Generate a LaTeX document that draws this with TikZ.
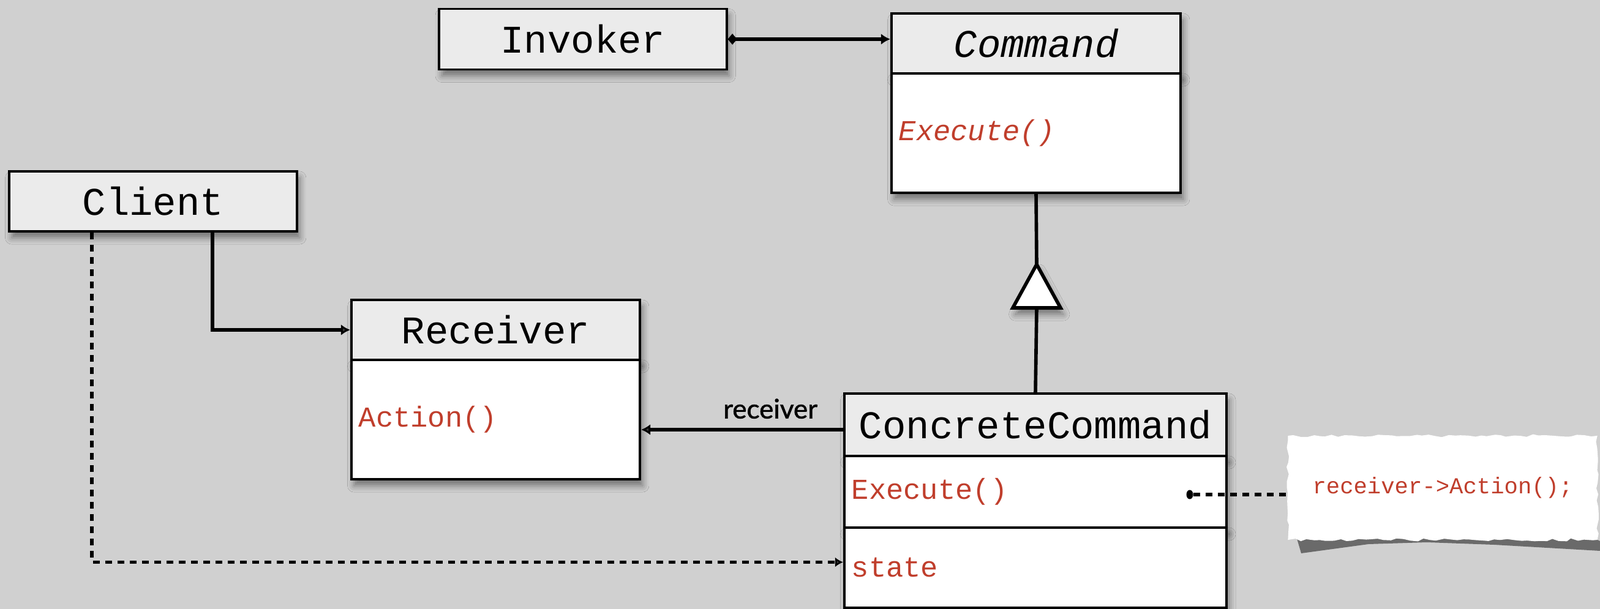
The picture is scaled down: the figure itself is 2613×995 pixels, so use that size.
\documentclass[tikz,border=0pt]{standalone}
\usepackage{fontspec}
\setmonofont{Liberation Mono}
\newfontfamily\tagfont{Lato}[FakeBold=1.3]
\usetikzlibrary{arrows.meta}
\usetikzlibrary{shapes.geometric}
\usetikzlibrary{shadows.blur}
\usetikzlibrary{decorations.pathmorphing}
\definecolor{paper}{RGB}{208,208,208}
\definecolor{headgray}{RGB}{235,235,235}
\definecolor{opred}{RGB}{192,62,44}

\begin{document}
\begin{tikzpicture}[x=0.01cm,y=-0.01cm,
  shade/.style={blur shadow={shadow xshift=1.2pt,shadow yshift=-3pt,shadow blur radius=3pt,shadow opacity=45}},
  head/.style={draw,line width=1.1pt,fill=headgray,inner sep=0pt,shade,
    font=\ttfamily\fontsize{18.2}{21}\selectfont},
  ops/.style={draw,line width=1.1pt,fill=white,inner xsep=0.12cm,inner ysep=0pt,shade,
    text width=#1,align=left,text=opred,font=\ttfamily\fontsize{13.4}{16}\selectfont},
  assoc/.style={line width=1.6pt,-{Latex[length=0.15cm,width=0.18cm]}},
  dep/.style={line width=1.6pt,dash pattern=on 0.11cm off 0.09cm},
  ]
\useasboundingbox (0,0) rectangle (2613,995);
\fill[paper] (0,0) rectangle (2613,995);

\node[head,minimum width=4.69cm,minimum height=0.99cm] (invoker) at (952,64) {Invoker};
\node[head,minimum width=4.72cm,minimum height=0.98cm] (command) at (1692,71) {\itshape Command};
\node[ops=4.48cm,minimum height=1.95cm] (cmdops) at (1692,217.5) {\itshape Execute()};
\node[head,minimum width=4.70cm,minimum height=0.98cm] (client) at (250,329) {Client};
\node[head,minimum width=4.71cm,minimum height=0.98cm] (receiver) at (809.5,539) {Receiver};
\node[ops=4.47cm,minimum height=1.95cm] (rcvops) at (809.5,685.5) {Action()};
\node[head,minimum width=6.24cm,minimum height=1.02cm] (concrete) at (1691,694) {ConcreteCommand};
\node[ops=6.00cm,minimum height=1.17cm] (ccops) at (1691,803.5) {Execute()};
\node[ops=6.00cm,minimum height=1.31cm] (ccstate) at (1691,927.5) {state};

\fill[black!65,opacity=.85] (2118,880) -- (2600,878) -- (2613,884) -- (2613,900) -- (2440,890)
  -- (2330,886) -- (2235,889) -- (2125,904) -- cycle;
\node[fill=white,decorate,decoration={random steps,segment length=3pt,amplitude=0.7pt},
  minimum width=5.05cm,minimum height=1.70cm,text=opred,
  font=\ttfamily\fontsize{10.6}{12}\selectfont] (note) at (2356,797) {receiver->Action();};

\coordinate (apex) at (1693,432);
\coordinate (tribase) at (1693,503);

\draw[line width=1.6pt,{Diamond[length=0.15cm,width=0.18cm]}-{Latex[length=0.15cm,width=0.18cm]}]
  (invoker.east) -- (invoker.east -| command.west);
\draw[line width=1.6pt] (cmdops.south) -- (apex);
\draw[line width=1.6pt,fill=white,line join=miter,shade] (apex) -- ++(-39,71) -- ++(78,0) -- cycle;
\draw[line width=1.6pt] (tribase) -- (concrete.north);
\draw[assoc] ([xshift=0.97cm]client.south) |- (receiver.west);
\draw[assoc] ([yshift=-0.08cm]concrete.west) -- ([yshift=-0.08cm]concrete.west -| rcvops.east)
  node[pos=0.36,above=1pt,font=\tagfont\fontsize{12.5}{14}\selectfont] {receiver};
\draw[dep,-{Latex[length=0.13cm,width=0.16cm]}] ([xshift=-1cm]client.south) |- ([yshift=0.09cm]ccstate.west);

\node[ellipse,fill,inner sep=0pt,minimum width=0.11cm,minimum height=0.15cm] (dot) at (1943,808) {};
\draw[dep] (dot) -- (note.west |- dot);
\end{tikzpicture}
\end{document}
